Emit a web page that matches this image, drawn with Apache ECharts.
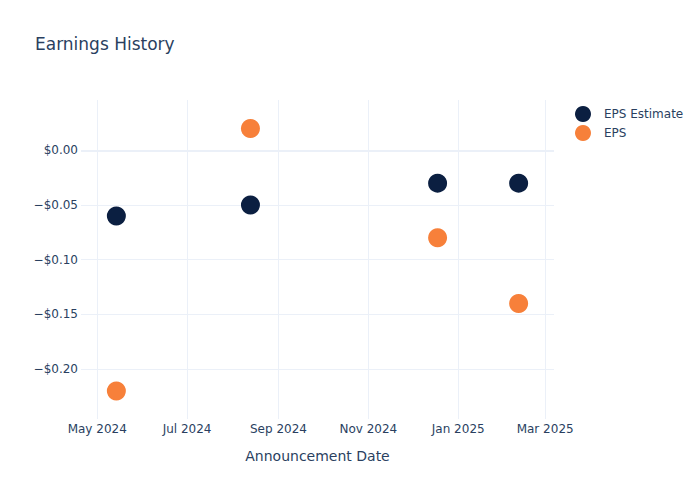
<!DOCTYPE html>
<html>
<head>
<meta charset="utf-8">
<script src="https://cdn.jsdelivr.net/npm/echarts@6/dist/echarts.min.js"></script>
<style>html,body{margin:0;padding:0;background:#fff}#c{width:700px;height:500px}</style>
</head>
<body>
<div id="c"></div>
<script>
const dates = ['2024-05-14', '2024-08-13', '2024-12-18', '2025-02-11'];
const epsEstimate = [-0.06, -0.05, -0.03, -0.03];
const eps = [-0.22, 0.02, -0.08, -0.14];
const xTickDates = ['2024-05-01', '2024-07-01', '2024-09-01', '2024-11-01', '2025-01-01', '2025-03-01'];
const xTickLabels = ['May 2024', 'Jul 2024', 'Sep 2024', 'Nov 2024', 'Jan 2025', 'Mar 2025'];
const yTicks = [-0.20, -0.15, -0.10, -0.05, 0.00];

const ts = d => new Date(d + 'T00:00:00Z').getTime();
const xTickTs = xTickDates.map(ts);
const font = 'DejaVu Sans, sans-serif';
const textColor = '#2a3f5f';
const gridColor = '#EBF0F8';

const chart = echarts.init(document.getElementById('c'), null, {renderer: 'svg'});
chart.setOption({
  animation: false,
  backgroundColor: '#fff',
  title: {
    text: 'Earnings History', left: 30, top: 30,
    textStyle: {fontFamily: font, fontSize: 17, fontWeight: 'normal', color: textColor}
  },
  legend: {
    orient: 'vertical', left: 570, top: 101, itemGap: 3,
    icon: 'circle', itemWidth: 16, itemHeight: 16,
    textStyle: {fontFamily: font, fontSize: 12, color: textColor, padding: [0, 0, 0, 8]},
    data: ['EPS Estimate', 'EPS']
  },
  grid: {left: 81, right: 146, top: 100, bottom: 81, containLabel: false},
  xAxis: {
    type: 'value',
    min: ts('2024-04-20'), max: ts('2025-03-07'),
    name: 'Announcement Date', nameLocation: 'middle', nameGap: 30,
    nameTextStyle: {fontFamily: font, fontSize: 14, color: textColor},
    axisLine: {show: false},
    axisTick: {show: false, customValues: xTickTs},
    axisLabel: {
      customValues: xTickTs, fontFamily: font, fontSize: 12, color: textColor, margin: 4,
      formatter: v => { const i = xTickTs.indexOf(v); return i >= 0 ? xTickLabels[i] : ''; }
    },
    splitLine: {show: true, lineStyle: {color: gridColor, width: 1}}
  },
  yAxis: {
    type: 'value',
    min: -0.2456, max: 0.046,
    axisLine: {show: false},
    axisTick: {show: false, customValues: yTicks},
    axisLabel: {
      customValues: yTicks, fontFamily: font, fontSize: 12, color: textColor, margin: 3,
      formatter: v => (v < -1e-9 ? '\u2212' : '') + '$' + Math.abs(v).toFixed(2)
    },
    splitLine: {show: true, lineStyle: {color: gridColor, width: 1}}
  },
  series: [
    {
      name: 'EPS Estimate', type: 'scatter', symbolSize: 19,
      itemStyle: {color: '#0b1f41', opacity: 1},
      data: dates.map((d, i) => [ts(d), epsEstimate[i]]),
      markLine: {
        silent: true, symbol: 'none', label: {show: false},
        lineStyle: {color: gridColor, width: 2, type: 'solid'},
        data: [{yAxis: 0}]
      }
    },
    {
      name: 'EPS', type: 'scatter', symbolSize: 19,
      itemStyle: {color: '#f7803a', opacity: 1},
      data: dates.map((d, i) => [ts(d), eps[i]])
    }
  ]
});
</script>
</body>
</html>
